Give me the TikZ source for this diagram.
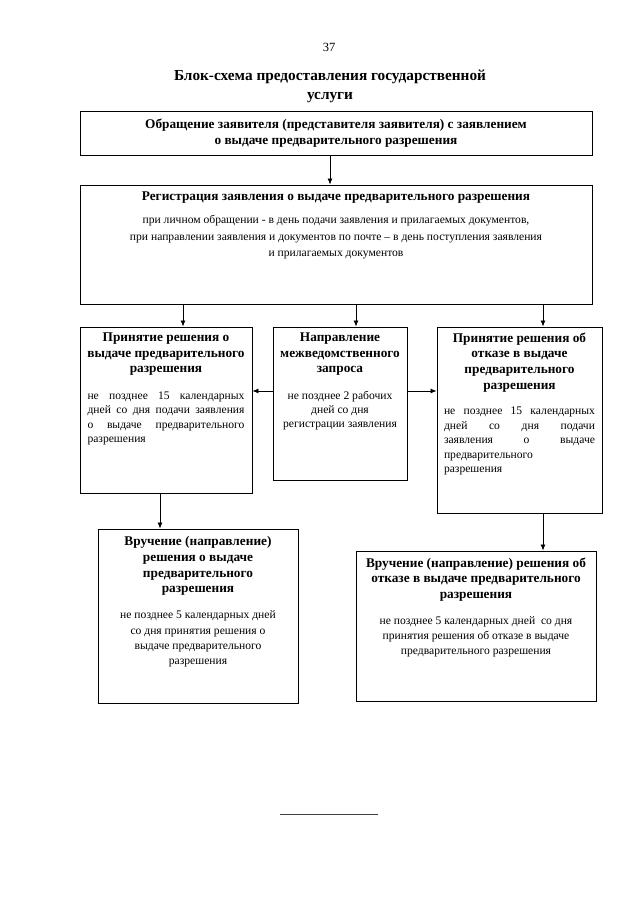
\documentclass[tikz,border=0pt]{standalone}
\usepackage{fontspec}
\setmainfont{Liberation Serif}
\usetikzlibrary{arrows.meta, positioning}

\begin{document}
\begin{tikzpicture}[x=1pt, y=-1pt,
    box/.style={rectangle, draw=black, line width=0.9pt, inner sep=0pt},
    head/.style={font=\fontsize{13.3}{15.6}\selectfont\bfseries, align=center, inner sep=1pt},
    note/.style={font=\fontsize{11.6}{14.4}\selectfont, align=center, inner sep=1pt},
    jnote/.style={note, align=justify},
    arrow/.style={-{Latex[length=6pt, width=5pt]}, line width=0.8pt}
  ]
  \useasboundingbox (0,0) rectangle (640,905);

  % Page heading
  \node[font=\fontsize{12.5}{14}\selectfont] (pageno) at (329,47) {37};
  \node[font=\fontsize{15.3}{19.5}\selectfont\bfseries, align=center] (heading) at (330,86.5) {Блок-схема предоставления государственной\\услуги};

  % Boxes
  \node[box, minimum width=512pt, minimum height=44pt] (appl) at (336,133) {};
  \node[box, minimum width=512pt, minimum height=119pt] (reg) at (336,244.5) {};
  \node[box, minimum width=172pt, minimum height=166pt] (dec) at (166,410) {};
  \node[box, minimum width=134pt, minimum height=153pt] (req) at (340,403.5) {};
  \node[box, minimum width=165pt, minimum height=186pt] (ref) at (519.5,420) {};
  \node[box, minimum width=200pt, minimum height=174pt] (issue) at (198,616) {};
  \node[box, minimum width=240pt, minimum height=150pt] (refiss) at (476,626) {};

  % Texts
  \node[head] (appltitle) at (appl) {Обращение заявителя (представителя заявителя) с заявлением\\о выдаче предварительного разрешения};

  \node[head, below=6pt of reg.north] (regtitle) {Регистрация заявления о выдаче предварительного разрешения};
  \node[note, font=\fontsize{11.6}{16.2}\selectfont, below=10pt of regtitle] (regnote) {при личном обращении - в день подачи заявления и прилагаемых документов,\\при направлении заявления и документов по почте – в день поступления заявления\\и прилагаемых документов};

  \node[head, below=5pt of dec.north] (dectitle) {Принятие решения о\\выдаче предварительного\\разрешения};
  \node[jnote, text width=157pt, below=14pt of dectitle] (decnote) {не позднее 15 календарных\linebreak дней со дня подачи заявления\linebreak о выдаче предварительного\linebreak разрешения};

  \node[head, below=5pt of req.north] (reqtitle) {Направление\\межведомственного\\запроса};
  \node[note, below=13pt of reqtitle] (reqnote) {не позднее 2 рабочих\\дней со дня\\регистрации заявления};

  \node[head, below=5pt of ref.north] (reftitle) {Принятие решения об\\отказе в выдаче\\предварительного\\разрешения};
  \node[jnote, text width=151pt, below=13pt of reftitle] (refnote) {не позднее 15 календарных\linebreak дней со дня подачи\linebreak заявления о выдаче\linebreak предварительного\\разрешения};

  \node[head, below=7pt of issue.north] (issuetitle) {Вручение (направление)\\решения о выдаче\\предварительного\\разрешения};
  \node[note, font=\fontsize{11.6}{15.2}\selectfont, below=13pt of issuetitle] (issuenote) {не позднее 5 календарных дней\\со дня принятия решения о\\выдаче предварительного\\разрешения};

  \node[head, below=6pt of refiss.north] (refisstitle) {Вручение (направление) решения об\\отказе в выдаче предварительного\\разрешения};
  \node[note, font=\fontsize{11.6}{15}\selectfont, below=13pt of refisstitle] (refissnote) {не позднее 5 календарных дней~ со дня\\принятия решения об отказе в выдаче\\предварительного разрешения};

  % Connections
  \draw[arrow] ([xshift=-6pt]appl.south) -- ([xshift=-6pt]appl.south |- reg.north);
  \draw[arrow] ([xshift=17pt]dec.north |- reg.south) -- ([xshift=17pt]dec.north);
  \draw[arrow] ([xshift=16pt]req.north |- reg.south) -- ([xshift=16pt]req.north);
  \draw[arrow] ([xshift=23.5pt]ref.north |- reg.south) -- ([xshift=23.5pt]ref.north);
  \draw[arrow] ([yshift=12.5pt]req.west) -- ([yshift=12.5pt]req.west -| dec.east);
  \draw[arrow] ([yshift=12.5pt]req.east) -- ([yshift=12.5pt]req.east -| ref.west);
  \draw[arrow] ([xshift=-6pt]dec.south) -- ([xshift=-6pt]dec.south |- issue.north);
  \draw[arrow] ([xshift=23.5pt]ref.south) -- ([xshift=23.5pt]ref.south |- refiss.north);

  % Footnote rule
  \draw[line width=0.8pt, black!75] (280,814) -- (378,814);
\end{tikzpicture}
\end{document}
